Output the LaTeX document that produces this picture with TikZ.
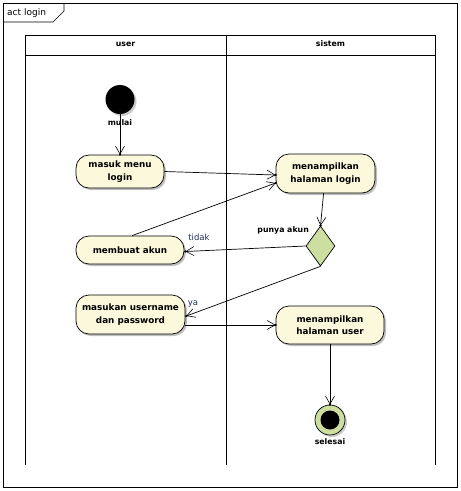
\documentclass[tikz,border=0pt]{standalone}
\usepackage{fontspec}
\setmainfont{DejaVu Sans}
\usetikzlibrary{arrows.meta,shapes.geometric,shadows,decorations.markings}
\definecolor{actfill}{RGB}{251,248,220}
\definecolor{decfill}{RGB}{204,222,160}
\definecolor{lbl}{RGB}{30,45,90}
\tikzset{
  x=1pt,y=-1pt,
  line/.style={draw=black,line width=0.7pt},
  act/.style={line, fill=actfill, rounded corners=13pt, align=center, inner sep=0pt,
     font=\fontsize{8.8}{12.5}\selectfont\bfseries,
     drop shadow={shadow xshift=2pt,shadow yshift=-2pt,fill=black!25,opacity=1}},
  dec/.style={line, fill=decfill, diamond, inner sep=0pt, minimum width=29pt, minimum height=40pt},
  small/.style={font=\fontsize{7.8}{9}\selectfont\bfseries, inner sep=0pt},
  guard/.style={font=\fontsize{8.5}{10}\selectfont, text=lbl, inner sep=0pt},
  flow/.style={line, -{Straight Barb[length=8pt,width=9pt,line width=0.6pt]},
     postaction={decorate, decoration={markings, mark=at position 1 with {\fill[black] (0,0) circle (1.3pt);}}}},
}
\begin{document}
\begin{tikzpicture}
\useasboundingbox (0,0) rectangle (461,491);
% frame
\draw[line] (3,3) rectangle (457,487);
\draw[line] (3,22) -- (53,22) -- (64,11) -- (64,3);
\node[anchor=west, inner sep=0pt, font=\fontsize{9}{10}\selectfont] (title) at (7,13) {act login};
% swimlanes
\draw[line] (25,465) -- (25,35) -- (435,35) -- (435,465);
\draw[line] (226,35) -- (226,465);
\draw[line] (25,55) -- (435,55);
\node[small] (hu) at (125.5,44) {user};
\node[small] (hs) at (330.5,44) {sistem};
% start
\fill[black!20] (122,101.5) circle (14.5);
\node[circle, fill=black, minimum size=29pt, inner sep=0pt] (start) at (120,99.5) {};
\node[small] (lstart) at (120,122.5) {mulai};
% activities
\node[act, minimum width=88pt, minimum height=33pt] (masuk) at (120,171.5) {masuk menu\\login};
\node[act, minimum width=99pt, minimum height=39pt] (login) at (325.5,173.5) {menampilkan\\halaman login};
\node[act, minimum width=108pt, minimum height=28pt] (buat) at (130,250) {membuat akun};
\node[act, minimum width=109pt, minimum height=39pt] (masukan) at (130.5,314.5) {masukan username\\dan password};
\node[act, minimum width=108pt, minimum height=38pt] (huser) at (330,325) {menampilkan\\halaman user};
% decision
\node[dec] (d) at (320.5,246) {};
\node[small, anchor=east] (ld) at (309,230) {punya akun};
% end
\fill[black!20] (332,422) circle (15);
\node[circle, draw=black, line width=0.7pt, fill=decfill, minimum size=30pt, inner sep=0pt] (end) at (330,420) {};
\fill[black] (end.center) circle (9.5);
\node[small] (lend) at (330,442) {selesai};
% flows
\draw[flow] (start) -- (masuk);
\draw[flow] (masuk.east) -- ([yshift=-1.5pt]login.west);
\draw[flow] ([xshift=2pt]buat.north) -- ([yshift=-9.5pt]login.west);
\draw[flow] (login) -- (d.north);
\draw[flow] (d.west) -- ([xshift=1pt,yshift=-1.5pt]buat.east);
\node[guard] (lt) at (199,237) {tidak};
\draw[flow] (d.south) -- ([xshift=1pt,yshift=-1.5pt]masukan.east);
\node[guard] (ly) at (193,304) {ya};
\draw[flow] ([yshift=-10.5pt]masukan.east) -- ([yshift=0pt]huser.west);
\draw[flow] (huser) -- (end);
\end{tikzpicture}
\end{document}
